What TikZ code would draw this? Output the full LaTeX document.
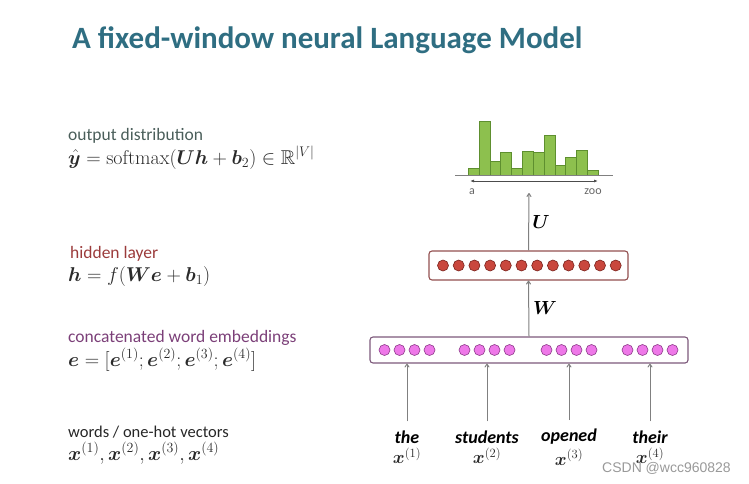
\RequirePackage{fix-cm}
\documentclass[tikz,border=0pt]{standalone}
\usepackage{fontspec}
\usepackage{amssymb}
\usepackage{bm}
\usetikzlibrary{arrows.meta,positioning}
\newfontfamily\cali{Carlito}
\newfontfamily\wmfont{Liberation Sans}
\definecolor{titleteal}{HTML}{2F6E82}
\definecolor{outgray}{HTML}{4A5E5A}
\definecolor{hidred}{HTML}{9B3B3B}
\definecolor{embpurple}{HTML}{7B3F78}
\definecolor{eqgray}{HTML}{2A2A2A}
\definecolor{barfill}{HTML}{8DC04E}
\definecolor{barline}{HTML}{5E8F2F}
\definecolor{redfill}{HTML}{C9473D}
\definecolor{redline}{HTML}{7A221C}
\definecolor{pinkfill}{HTML}{EE78E8}
\definecolor{pinkline}{HTML}{8E3A8A}
\tikzset{
  lbl/.style={anchor=base west, inner sep=0pt, font=\cali\fontsize{17.5}{19}\selectfont},
  eqn/.style={anchor=base west, inner sep=0pt, text=eqgray, font=\fontsize{20}{22}\selectfont},
  layerbox/.style={draw, rounded corners=3pt, line width=1.1pt, fill=white},
  hcirc/.style={circle, draw=redline, fill=redfill, line width=0.6pt, minimum size=11pt, inner sep=0pt},
  ecirc/.style={circle, draw=pinkline, fill=pinkfill, line width=0.6pt, minimum size=11pt, inner sep=0pt},
  bar/.style={fill=barfill, draw=barline, line width=0.6pt},
  uparr/.style={draw=gray, line width=1pt, -{To[length=4pt,width=5pt]}},
  word/.style={inner sep=0pt, font=\cali\bfseries\itshape\fontsize{18}{20}\selectfont},
  xlbl/.style={inner sep=0pt, text=eqgray, font=\fontsize{18}{20}\selectfont},
  vocab/.style={text=black!60, font=\cali\fontsize{12}{13}\selectfont}
}
\begin{document}
\begin{tikzpicture}[x=1pt, y=-1pt]
  \useasboundingbox (0,0) rectangle (749,483);
  % title
  \node[anchor=base west, inner sep=0pt, text=titleteal,
        font=\cali\bfseries\fontsize{31}{33}\selectfont] (title) at (72,48) {A fixed-window neural Language Model};
  % left column: labels and equations
  \node[lbl, text=outgray] (outlbl) at (68,140) {output distribution};
  \node[eqn] (outeq) at (68,164) {$\hat{\bm{y}} = \mathrm{softmax}(\bm{U}\bm{h} + \bm{b}_2) \in \mathbb{R}^{|V|}$};
  \node[lbl, text=hidred] (hidlbl) at (70,258) {hidden layer};
  \node[eqn] (hideq) at (68,281) {$\bm{h} = f(\bm{W}\bm{e} + \bm{b}_1)$};
  \node[lbl, text=embpurple] (emblbl) at (68,342) {concatenated word embeddings};
  \node[eqn] (embeq) at (68,366) {$\bm{e} = [\bm{e}^{(1)}; \bm{e}^{(2)}; \bm{e}^{(3)}; \bm{e}^{(4)}]$};
  \node[lbl, text=black!85, font=\cali\fontsize{16.5}{18}\selectfont] (wordlbl) at (68,437) {words / one-hot vectors};
  \node[eqn] (wordeq) at (68,460) {$\bm{x}^{(1)}, \bm{x}^{(2)}, \bm{x}^{(3)}, \bm{x}^{(4)}$};
  % histogram of the output distribution
  \foreach \hh [count=\i from 0] in {6.7,53.3,14,22.3,6.7,24,22.3,40,10,18,24.3,4.7}
    \filldraw[bar] ({468.3+10.83*\i},175) rectangle ++(10.83,-\hh);
  \draw[gray, line width=1pt] (455,175) -- (613,175);
  \draw[black!70, line width=0.9pt, {Latex[length=4pt]}-{Latex[length=4pt]}] (470,181) -- (598,181);
  \node[vocab] (vfirst) at (472,192) {a};
  \node[vocab] (vlast) at (593,192) {zoo};
  \coordinate (htop) at (529,193);
  % hidden layer
  \node[layerbox, draw=hidred!70!gray, minimum width=199pt, minimum height=29pt] (hbox) at (528.5,265.5) {};
  \foreach \i in {0,...,11}
    \node[hcirc] (h\i) at ({443+15.7*\i},265.5) {};
  % embedding layer
  \node[layerbox, draw=embpurple!60!gray, minimum width=318pt, minimum height=26pt] (ebox) at (529,350) {};
  \foreach \g/\cx in {1/407,2/487,3/569,4/650}
    \foreach \j in {0,...,3}
      \node[ecirc] (e\g\j) at ({\cx-22.5+15*\j},350) {};
  % input words
  \foreach \g/\cx/\w in {1/407/the,2/487/students,3/569/opened,4/650/their} {
    \node[word] (w\g) at (\cx,437) {\w};
    \node[xlbl, below=4pt of w\g] (x\g) {$\bm{x}^{(\g)}$};
    \draw[uparr] ([yshift=9pt]w\g.north) -- (w\g.north |- ebox.south);
  }
  % connections between layers
  \draw[uparr] (ebox.north) -- (hbox.south);
  \node[font=\fontsize{19}{21}\selectfont] (wlbl) at (545,308) {$\bm{W}$};
  \draw[uparr] (hbox.north) -- (htop);
  \node[font=\fontsize{19}{21}\selectfont] (ulbl) at (541,222) {$\bm{U}$};
  % watermark
  \node[anchor=base west, inner sep=0pt, text=gray!80, font=\wmfont\fontsize{14}{16}\selectfont] (mark) at (602,472) {CSDN @wcc960828};
\end{tikzpicture}
\end{document}
